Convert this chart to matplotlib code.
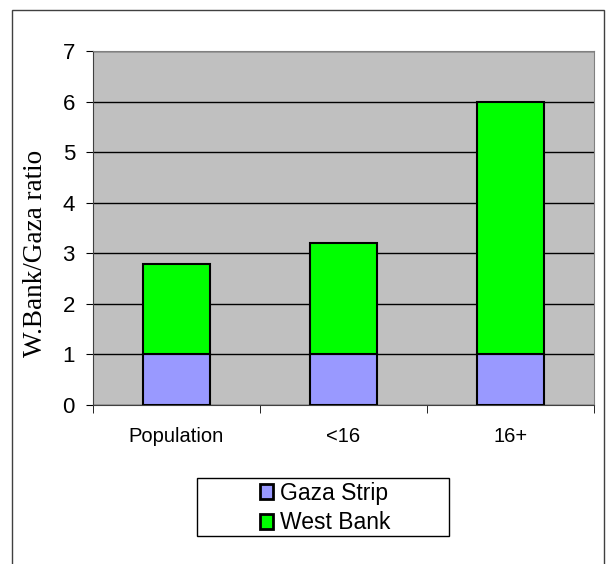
import numpy as np
import matplotlib
matplotlib.use('Agg')
import matplotlib.pyplot as plt
from matplotlib.patches import Rectangle

# data
categories = ['Population', '<16', '16+']
gaza = [1.0, 1.0, 1.0]
total = [2.79, 3.2, 6.0]
west_bank = [t - g for t, g in zip(total, gaza)]

plt.rcParams['font.family'] = 'Liberation Sans'

fig = plt.figure(figsize=(6.10, 5.64), dpi=100)
ax = fig.add_axes([93/610, 1 - 405/564, 501/610, 354/564])

x = np.arange(len(categories))
ax.bar(x, gaza, width=0.4, color='#9999FF', edgecolor='black', linewidth=1.5,
       label='Gaza Strip', zorder=3)
ax.bar(x, west_bank, width=0.4, bottom=gaza, color='#00FF00', edgecolor='black',
       linewidth=1.5, label='West Bank', zorder=3)

ax.set_facecolor('#C0C0C0')
ax.set_xlim(-0.5, 2.5)
ax.set_ylim(0, 7)
ax.set_yticks(range(0, 8))
ax.yaxis.grid(True, color='black', linewidth=1, zorder=1)
ax.set_axisbelow(True)
ax.tick_params(axis='y', direction='out', length=5, labelsize=16, pad=8)

ax.set_xticks(x)
ax.set_xticklabels(categories, fontsize=14.5)
ax.tick_params(axis='x', length=0, pad=16)
ax.set_xticks([-0.5, 0.5, 1.5, 2.5], minor=True)
ax.tick_params(axis='x', which='minor', direction='out', length=6)

for s in ['top', 'right']:
    ax.spines[s].set_color('#808080')
for s in ['left', 'bottom']:
    ax.spines[s].set_color('#404040')

ax.set_ylabel('W.Bank/Gaza ratio', fontsize=19.5, family='Liberation Serif')
ax.yaxis.set_label_coords(-0.09, 0.427)

# legend frame drawn separately so its size matches the original
fig.patches.append(Rectangle((197/610, 1 - 536/564), 252/610, 58/564,
                             transform=fig.transFigure, fill=False,
                             edgecolor='black', linewidth=1))
leg = fig.legend(loc='center', bbox_to_anchor=(325/610, 1 - 508/564), ncol=1,
                 fontsize=16.5, frameon=False,
                 handlelength=0.6, handleheight=0.6, handletextpad=0.3,
                 borderpad=0.2, labelspacing=0.3, borderaxespad=0)
for h in leg.legend_handles:
    h.set_linewidth(2)

# outer chart border
fig.patches.append(Rectangle((12/610, -0.05), 592/610, 1.05 - 10/564,
                             transform=fig.transFigure, fill=False,
                             edgecolor='#404040', linewidth=1))

fig.savefig('out.png', dpi=100)
